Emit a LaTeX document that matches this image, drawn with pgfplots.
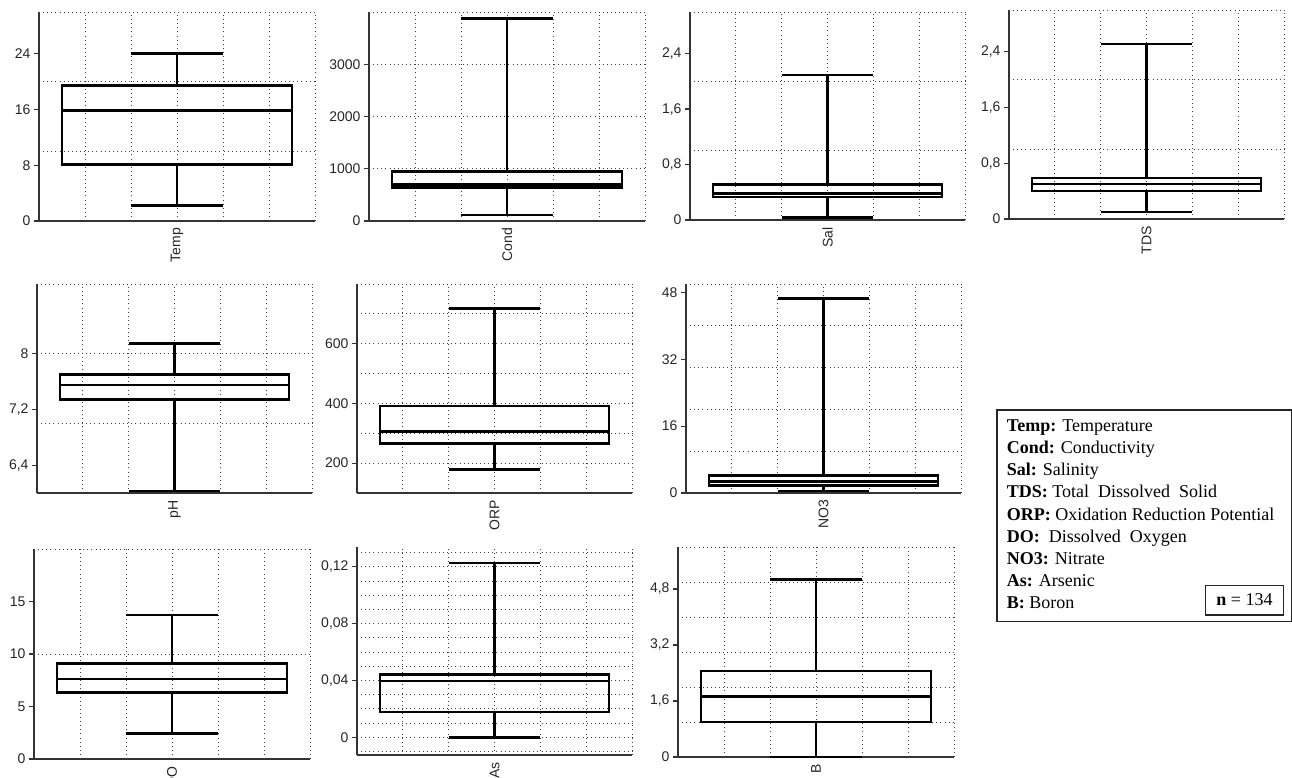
\documentclass[border=0pt]{standalone}
\usepackage{fontspec}
\setmainfont{Liberation Sans}
\newfontfamily\tnr{Liberation Serif}
\usepackage{pgfplots}
\pgfplotsset{compat=1.18}
\usepgfplotslibrary{statistics}

\pgfplotsset{
  panel/.style={
    scale only axis,
    anchor=south west,
    clip=false,
    xmin=0, xmax=6,
    axis lines=left,
    axis line style={-, black!80, line width=1.3pt},
    tick align=outside,
    major tick length=5pt,
    ytick style={black!80, line width=1.2pt},
    xtick={3},
    xtick style={draw=none},
    xticklabel style={rotate=90, anchor=east, inner sep=2pt, font=\fontsize{14}{16}\selectfont, text=black!85},
    yticklabel style={font=\fontsize{14}{16}\selectfont, text=black!85},
    /pgf/number format/assume math mode=true,
    /pgf/number format/fixed, /pgf/number format/use comma,
    /pgf/number format/1000 sep={}, /pgf/number format/precision=2,
    scaled y ticks=false,
    extra x ticks={1,2,3,4,5,6},
    extra x tick labels={},
    extra x tick style={grid=major, major tick length=0pt},
    extra y tick labels={},
    extra y tick style={grid=major, major tick length=0pt},
    grid style={black!75, line width=0.9pt, dash pattern=on 0.9pt off 3.2pt},
    boxplot/draw direction=y,
  },
  bx/.style={black, solid, line width=2.6pt, mark=none},
}

\begin{document}
\begin{tikzpicture}
\path[use as bounding box] (0pt,0pt) rectangle (1292pt,778pt);

% Temp
\begin{axis}[panel, at={(39pt,557pt)}, width=276pt, height=209pt,
  ymin=0, ymax=30, ytick={0,8,16,24}, extra y ticks={10,20,30}, xticklabels={Temp}]
\addplot[bx, boxplot prepared={draw position=3, lower whisker=2.2, lower quartile=8.07, median=15.9, upper quartile=19.45, upper whisker=24, box extend=5, whisker extend=2}] coordinates {};
\end{axis}

% Cond
\begin{axis}[panel, at={(369pt,557pt)}, width=276pt, height=209pt,
  ymin=0, ymax=4000, ytick={0,1000,2000,3000}, extra y ticks={1000,2000,3000,4000}, xticklabels={Cond}]
\addplot[bx, boxplot prepared={draw position=3, lower whisker=115, lower quartile=645, median=703, upper quartile=945, upper whisker=3870, box extend=5, whisker extend=2}] coordinates {};
\end{axis}

% Sal
\begin{axis}[panel, at={(690pt,558pt)}, width=275pt, height=208pt,
  ymin=0, ymax=3, ytick={0,0.8,1.6,2.4}, extra y ticks={1,2,3}, xticklabels={Sal}]
\addplot[bx, boxplot prepared={draw position=3, lower whisker=0.04, lower quartile=0.33, median=0.38, upper quartile=0.51, upper whisker=2.09, box extend=5, whisker extend=2}] coordinates {};
\end{axis}

% TDS
\begin{axis}[panel, at={(1009pt,559pt)}, width=275pt, height=209pt,
  ymin=0, ymax=3, ytick={0,0.8,1.6,2.4}, extra y ticks={1,2,3}, xticklabels={TDS}]
\addplot[bx, boxplot prepared={draw position=3, lower whisker=0.1, lower quartile=0.40, median=0.50, upper quartile=0.59, upper whisker=2.51, box extend=5, whisker extend=2}] coordinates {};
\end{axis}

% pH
\begin{axis}[panel, at={(37pt,285pt)}, width=275pt, height=209pt,
  ymin=6, ymax=9, ytick={6.4,7.2,8}, extra y ticks={7,8,9}, xticklabels={pH}]
\addplot[bx, boxplot prepared={draw position=3, lower whisker=6.03, lower quartile=7.34, median=7.55, upper quartile=7.70, upper whisker=8.15, box extend=5, whisker extend=2}] coordinates {};
\end{axis}

% ORP
\begin{axis}[panel, at={(357pt,285pt)}, width=275pt, height=209pt,
  ymin=100, ymax=800, ytick={200,400,600}, extra y ticks={200,300,400,500,600,700,800}, xticklabels={ORP}]
\addplot[bx, boxplot prepared={draw position=3, lower whisker=178, lower quartile=266, median=305, upper quartile=391, upper whisker=718, box extend=5, whisker extend=2}] coordinates {};
\end{axis}

% NO3
\begin{axis}[panel, at={(686pt,285pt)}, width=275pt, height=209pt,
  ymin=0, ymax=50, ytick={0,16,32,48}, extra y ticks={10,20,30,40,50}, xticklabels={NO3}]
\addplot[bx, boxplot prepared={draw position=3, lower whisker=0.5, lower quartile=1.8, median=2.8, upper quartile=4.2, upper whisker=46.5, box extend=5, whisker extend=2}] coordinates {};
\end{axis}

% DO
\begin{axis}[panel, at={(34pt,19pt)}, width=276pt, height=210pt,
  ymin=0, ymax=20, ytick={0,5,10,15}, extra y ticks={10,20}, xticklabels={DO}]
\addplot[bx, boxplot prepared={draw position=3, lower whisker=2.43, lower quartile=6.32, median=7.63, upper quartile=9.07, upper whisker=13.7, box extend=5, whisker extend=2}] coordinates {};
\end{axis}

% As
\begin{axis}[panel, at={(357pt,23pt)}, width=275pt, height=208pt,
  ymin=-0.0125, ymax=0.134, ytick={0,0.04,0.08,0.12},
  extra y ticks={-0.01,0,0.01,0.02,0.03,0.04,0.05,0.06,0.07,0.08,0.09,0.1,0.11,0.12,0.13}, xticklabels={As}]
\addplot[bx, boxplot prepared={draw position=3, lower whisker=0, lower quartile=0.0179, median=0.0396, upper quartile=0.0443, upper whisker=0.1228, box extend=5, whisker extend=2}] coordinates {};
\end{axis}

% B
\begin{axis}[panel, at={(678pt,21pt)}, width=276pt, height=210pt,
  ymin=0, ymax=6, ytick={0,1.6,3.2,4.8}, extra y ticks={1,2,3,4,5,6}, xticklabels={B}]
\addplot[bx, boxplot prepared={draw position=3, lower whisker=0, lower quartile=1.0, median=1.73, upper quartile=2.46, upper whisker=5.07, box extend=5, whisker extend=2}] coordinates {};
\end{axis}

% legend box
\draw[line width=1.2pt, black!85] (997pt,368pt) rectangle (1291.3pt,156.3pt);
\begin{scope}[every node/.style={anchor=base west, inner sep=0pt, font=\tnr\fontsize{18}{20}\selectfont}]
\node at (1006.7pt,346.3pt) {\textbf{Temp:} Temperature};
\node at (1006.7pt,324.2pt) {\textbf{Cond:} Conductivity};
\node at (1006.7pt,302.1pt) {\textbf{Sal:} Salinity};
\node at (1006.7pt,280.0pt) {\textbf{TDS:} Total\ \ Dissolved\ \ Solid};
\node at (1006.7pt,257.9pt) {\textbf{ORP:} Oxidation Reduction Potential};
\node at (1006.7pt,235.8pt) {\textbf{DO:}\ \ Dissolved\ \ Oxygen};
\node at (1006.7pt,213.7pt) {\textbf{NO3:} Nitrate};
\node at (1006.7pt,191.6pt) {\textbf{As:} Arsenic};
\node at (1006.7pt,169.5pt) {\textbf{B:} Boron};
\end{scope}
\draw[line width=1.2pt, black!85] (1205.7pt,192.3pt) rectangle (1283.3pt,163pt);
\node[anchor=base, inner sep=0pt, font=\tnr\fontsize{18}{20}\selectfont] at (1244.5pt,172pt) {\textbf{n} = 134};
\end{tikzpicture}
\end{document}
